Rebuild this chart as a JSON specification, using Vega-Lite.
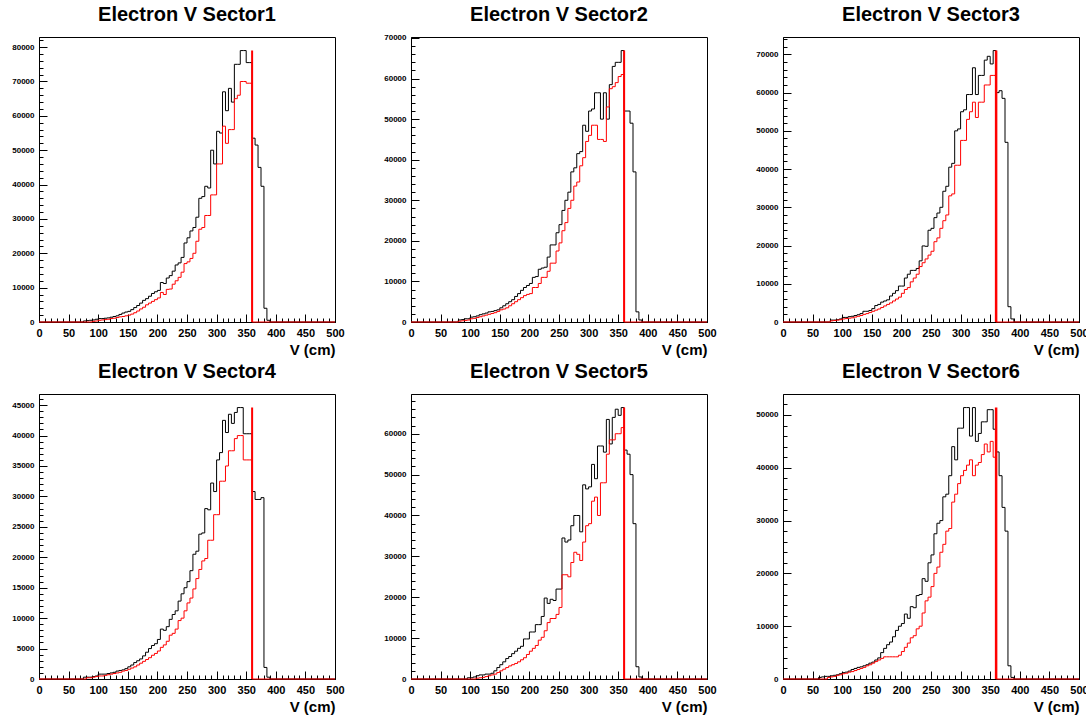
{
  "$schema": "https://vega.github.io/schema/vega-lite/v6.json",
  "background": "white",
  "padding": {"left": 11, "top": 4, "right": 2, "bottom": 2},
  "bounds": "flush",
  "columns": 3,
  "spacing": {"row": 72, "column": 76},
  "datasets": {
    "sector1": [
      {"v":0,"all":0,"sel":0},{"v":75,"all":300,"sel":0},{"v":80,"all":400,"sel":0},{"v":85,"all":500,"sel":0},{"v":90,"all":600,"sel":200},{"v":95,"all":800,"sel":300},
      {"v":100,"all":1000,"sel":500},{"v":105,"all":1000,"sel":600},{"v":110,"all":1100,"sel":700},{"v":115,"all":1200,"sel":800},{"v":120,"all":1400,"sel":1000},{"v":125,"all":1600,"sel":1100},
      {"v":130,"all":1800,"sel":1300},{"v":135,"all":2200,"sel":1500},{"v":140,"all":2600,"sel":1600},{"v":145,"all":2900,"sel":1800},{"v":150,"all":3100,"sel":2000},{"v":155,"all":3600,"sel":2300},
      {"v":160,"all":4200,"sel":2700},{"v":165,"all":4800,"sel":3200},{"v":170,"all":5500,"sel":3800},{"v":175,"all":6300,"sel":4300},{"v":180,"all":6800,"sel":5000},{"v":185,"all":7500,"sel":5500},
      {"v":190,"all":8300,"sel":6000},{"v":195,"all":8800,"sel":6500},{"v":200,"all":9200,"sel":7000},{"v":205,"all":11500,"sel":8600},{"v":210,"all":11200,"sel":8000},{"v":215,"all":12800,"sel":9500},
      {"v":220,"all":13500,"sel":9600},{"v":225,"all":14800,"sel":11000},{"v":230,"all":16600,"sel":12000},{"v":235,"all":17200,"sel":13000},{"v":240,"all":18800,"sel":14500},{"v":245,"all":23000,"sel":17000},
      {"v":250,"all":24500,"sel":17500},{"v":255,"all":26500,"sel":18500},{"v":260,"all":27500,"sel":20000},{"v":265,"all":30500,"sel":23500},{"v":270,"all":36000,"sel":27000},{"v":275,"all":36500,"sel":27500},
      {"v":280,"all":39500,"sel":31000},{"v":285,"all":39000,"sel":31000},{"v":290,"all":50000,"sel":37000},{"v":295,"all":46000,"sel":37000},{"v":300,"all":55500,"sel":46000},{"v":305,"all":55000,"sel":46000},
      {"v":310,"all":67000,"sel":57000},{"v":315,"all":61500,"sel":52000},{"v":320,"all":68000,"sel":56000},{"v":325,"all":64000,"sel":56000},{"v":330,"all":75000,"sel":65000},{"v":335,"all":75000,"sel":66000},
      {"v":340,"all":79000,"sel":70000},{"v":345,"all":79000,"sel":70000},{"v":350,"all":75500,"sel":69500},{"v":355,"all":75500,"sel":69500},{"v":360,"all":53500,"sel":0},{"v":365,"all":51500,"sel":0},
      {"v":370,"all":45000,"sel":0},{"v":375,"all":39500,"sel":0},{"v":380,"all":4000,"sel":0},{"v":385,"all":500,"sel":0},{"v":390,"all":0,"sel":0},{"v":500,"all":0,"sel":0}
    ],
    "sector2": [
      {"v":0,"all":0,"sel":0},{"v":80,"all":500,"sel":200},{"v":85,"all":600,"sel":300},{"v":90,"all":800,"sel":400},{"v":95,"all":800,"sel":500},
      {"v":100,"all":1200,"sel":800},{"v":105,"all":1300,"sel":900},{"v":110,"all":1500,"sel":1100},{"v":115,"all":1800,"sel":1300},{"v":120,"all":2000,"sel":1500},{"v":125,"all":2200,"sel":1700},
      {"v":130,"all":2500,"sel":1900},{"v":135,"all":2600,"sel":2100},{"v":140,"all":2800,"sel":2300},{"v":145,"all":3000,"sel":2600},{"v":150,"all":3500,"sel":3000},{"v":155,"all":4000,"sel":3200},
      {"v":160,"all":4500,"sel":3500},{"v":165,"all":5000,"sel":4000},{"v":170,"all":5500,"sel":4500},{"v":175,"all":6300,"sel":5000},{"v":180,"all":7000,"sel":5500},{"v":185,"all":7800,"sel":6000},
      {"v":190,"all":8500,"sel":6500},{"v":195,"all":9000,"sel":6800},{"v":200,"all":9500,"sel":7000},{"v":205,"all":11000,"sel":8500},{"v":210,"all":11200,"sel":8500},{"v":215,"all":13000,"sel":9500},
      {"v":220,"all":13300,"sel":11000},{"v":225,"all":13500,"sel":11000},{"v":230,"all":16000,"sel":12500},{"v":235,"all":19000,"sel":14500},{"v":240,"all":19000,"sel":14500},{"v":245,"all":22000,"sel":17500},
      {"v":250,"all":24000,"sel":19500},{"v":255,"all":27500,"sel":22500},{"v":260,"all":30000,"sel":24500},{"v":265,"all":32000,"sel":28000},{"v":270,"all":37000,"sel":30000},{"v":275,"all":38000,"sel":33500},
      {"v":280,"all":41500,"sel":34500},{"v":285,"all":42000,"sel":38500},{"v":290,"all":48500,"sel":40500},{"v":295,"all":47000,"sel":44500},{"v":300,"all":52000,"sel":46000},{"v":305,"all":52500,"sel":48500},
      {"v":310,"all":56500,"sel":48500},{"v":315,"all":56500,"sel":45000},{"v":320,"all":50000,"sel":45000},{"v":325,"all":56500,"sel":44500},{"v":330,"all":50000,"sel":53000},{"v":335,"all":58500,"sel":57500},
      {"v":340,"all":63000,"sel":58000},{"v":345,"all":64000,"sel":59000},{"v":350,"all":64000,"sel":60500},{"v":355,"all":66900,"sel":61000},{"v":360,"all":52000,"sel":0},{"v":365,"all":52000,"sel":0},
      {"v":370,"all":49000,"sel":0},{"v":375,"all":37000,"sel":0},{"v":380,"all":2500,"sel":0},{"v":385,"all":500,"sel":0},{"v":390,"all":0,"sel":0},{"v":500,"all":0,"sel":0}
    ],
    "sector3": [
      {"v":0,"all":0,"sel":0},{"v":80,"all":500,"sel":300},{"v":85,"all":500,"sel":400},{"v":90,"all":600,"sel":500},{"v":95,"all":800,"sel":600},
      {"v":100,"all":1200,"sel":800},{"v":105,"all":1200,"sel":900},{"v":110,"all":1400,"sel":1000},{"v":115,"all":1500,"sel":1100},{"v":120,"all":1700,"sel":1300},{"v":125,"all":1900,"sel":1500},
      {"v":130,"all":2200,"sel":1700},{"v":135,"all":2800,"sel":2000},{"v":140,"all":2800,"sel":2200},{"v":145,"all":3000,"sel":2500},{"v":150,"all":3500,"sel":2800},{"v":155,"all":4300,"sel":3100},
      {"v":160,"all":4600,"sel":3400},{"v":165,"all":5200,"sel":3800},{"v":170,"all":5500,"sel":4200},{"v":175,"all":5800,"sel":4600},{"v":180,"all":6800,"sel":5000},{"v":185,"all":7500,"sel":5500},
      {"v":190,"all":8200,"sel":6000},{"v":195,"all":9400,"sel":6500},{"v":200,"all":9400,"sel":7500},{"v":205,"all":11500,"sel":8500},{"v":210,"all":12500,"sel":9000},{"v":215,"all":13500,"sel":10500},
      {"v":220,"all":13500,"sel":11500},{"v":225,"all":14000,"sel":12500},{"v":230,"all":16000,"sel":14500},{"v":235,"all":19900,"sel":15500},{"v":240,"all":19800,"sel":16500},{"v":245,"all":24000,"sel":17500},
      {"v":250,"all":24500,"sel":18500},{"v":255,"all":27300,"sel":21000},{"v":260,"all":28500,"sel":22000},{"v":265,"all":30000,"sel":24500},{"v":270,"all":34200,"sel":26500},{"v":275,"all":35500,"sel":28000},
      {"v":280,"all":40500,"sel":33000},{"v":285,"all":41500,"sel":33500},{"v":290,"all":50000,"sel":41000},{"v":295,"all":50500,"sel":41000},{"v":300,"all":55000,"sel":47500},{"v":305,"all":55500,"sel":47500},
      {"v":310,"all":59500,"sel":53000},{"v":315,"all":59500,"sel":55000},{"v":320,"all":66500,"sel":57500},{"v":325,"all":59500,"sel":53500},{"v":330,"all":64500,"sel":57500},{"v":335,"all":64500,"sel":57500},
      {"v":340,"all":68500,"sel":62000},{"v":345,"all":69500,"sel":62000},{"v":350,"all":67500,"sel":64500},{"v":355,"all":71000,"sel":64500},{"v":360,"all":60000,"sel":0},{"v":365,"all":60500,"sel":0},
      {"v":370,"all":58500,"sel":0},{"v":375,"all":47000,"sel":0},{"v":380,"all":4000,"sel":0},{"v":385,"all":800,"sel":0},{"v":390,"all":0,"sel":0},{"v":500,"all":0,"sel":0}
    ],
    "sector4": [
      {"v":0,"all":0,"sel":0},{"v":75,"all":300,"sel":0},{"v":80,"all":300,"sel":200},{"v":85,"all":300,"sel":200},{"v":90,"all":400,"sel":300},{"v":95,"all":500,"sel":400},
      {"v":100,"all":800,"sel":500},{"v":105,"all":800,"sel":500},{"v":110,"all":800,"sel":600},{"v":115,"all":900,"sel":700},{"v":120,"all":1000,"sel":800},{"v":125,"all":1100,"sel":900},
      {"v":130,"all":1300,"sel":1000},{"v":135,"all":1400,"sel":1100},{"v":140,"all":1500,"sel":1300},{"v":145,"all":1700,"sel":1400},{"v":150,"all":2000,"sel":1600},{"v":155,"all":2300,"sel":1800},
      {"v":160,"all":2700,"sel":2000},{"v":165,"all":3000,"sel":2300},{"v":170,"all":3300,"sel":2600},{"v":175,"all":3800,"sel":2900},{"v":180,"all":4400,"sel":3200},{"v":185,"all":5000,"sel":3500},
      {"v":190,"all":5500,"sel":3900},{"v":195,"all":5800,"sel":4200},{"v":200,"all":6500,"sel":4600},{"v":205,"all":8200,"sel":5200},{"v":210,"all":8000,"sel":5600},{"v":215,"all":8600,"sel":6200},
      {"v":220,"all":9800,"sel":7200},{"v":225,"all":10600,"sel":7500},{"v":230,"all":11200,"sel":8200},{"v":235,"all":12800,"sel":9600},{"v":240,"all":14000,"sel":10000},{"v":245,"all":15000,"sel":11200},
      {"v":250,"all":16000,"sel":12500},{"v":255,"all":17800,"sel":13300},{"v":260,"all":20500,"sel":14800},{"v":265,"all":21000,"sel":16500},{"v":270,"all":23800,"sel":18000},{"v":275,"all":24000,"sel":19400},
      {"v":280,"all":28000,"sel":19800},{"v":285,"all":27800,"sel":22800},{"v":290,"all":32200,"sel":22800},{"v":295,"all":30800,"sel":27000},{"v":300,"all":36000,"sel":27000},{"v":305,"all":37200,"sel":32500},
      {"v":310,"all":42500,"sel":32500},{"v":315,"all":40500,"sel":35000},{"v":320,"all":43500,"sel":37500},{"v":325,"all":42000,"sel":37500},{"v":330,"all":43800,"sel":39500},{"v":335,"all":44600,"sel":40000},
      {"v":340,"all":44600,"sel":40000},{"v":345,"all":40300,"sel":36000},{"v":350,"all":40300,"sel":36000},{"v":355,"all":40300,"sel":36000},{"v":360,"all":30800,"sel":0},{"v":365,"all":29500,"sel":0},
      {"v":370,"all":29500,"sel":0},{"v":375,"all":29800,"sel":0},{"v":380,"all":1900,"sel":0},{"v":385,"all":300,"sel":0},{"v":390,"all":0,"sel":0},{"v":500,"all":0,"sel":0}
    ],
    "sector5": [
      {"v":0,"all":0,"sel":0},{"v":95,"all":300,"sel":0},
      {"v":100,"all":300,"sel":0},{"v":105,"all":500,"sel":0},{"v":110,"all":800,"sel":200},{"v":115,"all":1000,"sel":300},{"v":120,"all":1000,"sel":400},{"v":125,"all":1200,"sel":600},
      {"v":130,"all":1200,"sel":800},{"v":135,"all":1400,"sel":1000},{"v":140,"all":2000,"sel":1200},{"v":145,"all":2800,"sel":1600},{"v":150,"all":3500,"sel":2000},{"v":155,"all":4200,"sel":2400},
      {"v":160,"all":5000,"sel":2800},{"v":165,"all":5500,"sel":3200},{"v":170,"all":6200,"sel":3500},{"v":175,"all":6800,"sel":3800},{"v":180,"all":7500,"sel":4200},{"v":185,"all":8000,"sel":4700},
      {"v":190,"all":9800,"sel":5200},{"v":195,"all":9800,"sel":6000},{"v":200,"all":11500,"sel":6800},{"v":205,"all":11500,"sel":7500},{"v":210,"all":13300,"sel":8200},{"v":215,"all":13300,"sel":9500},
      {"v":220,"all":15300,"sel":10200},{"v":225,"all":19800,"sel":11800},{"v":230,"all":18500,"sel":13800},{"v":235,"all":19500,"sel":14800},{"v":240,"all":19200,"sel":14800},{"v":245,"all":22000,"sel":15800},
      {"v":250,"all":22000,"sel":17500},{"v":255,"all":34500,"sel":25500},{"v":260,"all":33500,"sel":25500},{"v":265,"all":34000,"sel":25000},{"v":270,"all":37500,"sel":28500},{"v":275,"all":40000,"sel":31000},
      {"v":280,"all":40000,"sel":30500},{"v":285,"all":36000,"sel":29000},{"v":290,"all":47500,"sel":33500},{"v":295,"all":46500,"sel":37500},{"v":300,"all":47000,"sel":38000},{"v":305,"all":52500,"sel":43500},
      {"v":310,"all":49000,"sel":44500},{"v":315,"all":57000,"sel":40000},{"v":320,"all":57000,"sel":48000},{"v":325,"all":55500,"sel":48000},{"v":330,"all":63500,"sel":55000},{"v":335,"all":57500,"sel":58500},
      {"v":340,"all":64000,"sel":58500},{"v":345,"all":66000,"sel":60000},{"v":350,"all":64500,"sel":60000},{"v":355,"all":66400,"sel":61500},{"v":360,"all":56000,"sel":0},{"v":365,"all":55000,"sel":0},
      {"v":370,"all":50000,"sel":0},{"v":375,"all":38000,"sel":0},{"v":380,"all":3000,"sel":0},{"v":385,"all":500,"sel":0},{"v":390,"all":0,"sel":0},{"v":500,"all":0,"sel":0}
    ],
    "sector6": [
      {"v":0,"all":0,"sel":0},{"v":60,"all":300,"sel":0},{"v":65,"all":400,"sel":0},{"v":70,"all":500,"sel":0},{"v":75,"all":500,"sel":300},{"v":80,"all":600,"sel":400},{"v":85,"all":700,"sel":500},{"v":90,"all":800,"sel":700},{"v":95,"all":1000,"sel":800},
      {"v":100,"all":1200,"sel":1000},{"v":105,"all":1300,"sel":1100},{"v":110,"all":1500,"sel":1300},{"v":115,"all":1800,"sel":1400},{"v":120,"all":2000,"sel":1600},{"v":125,"all":2200,"sel":1800},
      {"v":130,"all":2300,"sel":2000},{"v":135,"all":2500,"sel":2200},{"v":140,"all":2700,"sel":2500},{"v":145,"all":3000,"sel":2700},{"v":150,"all":3200,"sel":3000},{"v":155,"all":3600,"sel":3300},
      {"v":160,"all":4000,"sel":3600},{"v":165,"all":5000,"sel":3900},{"v":170,"all":5800,"sel":4200},{"v":175,"all":6500,"sel":4200},{"v":180,"all":7000,"sel":4200},{"v":185,"all":8000,"sel":4200},
      {"v":190,"all":9200,"sel":4200},{"v":195,"all":10000,"sel":4500},{"v":200,"all":10500,"sel":5200},{"v":205,"all":12300,"sel":6000},{"v":210,"all":11500,"sel":6800},{"v":215,"all":13700,"sel":7800},
      {"v":220,"all":13500,"sel":8200},{"v":225,"all":15800,"sel":9500},{"v":230,"all":16000,"sel":10000},{"v":235,"all":19000,"sel":12500},{"v":240,"all":18500,"sel":14800},{"v":245,"all":22000,"sel":15500},
      {"v":250,"all":23500,"sel":17500},{"v":255,"all":27500,"sel":20000},{"v":260,"all":29500,"sel":21200},{"v":265,"all":30000,"sel":24000},{"v":270,"all":34500,"sel":25500},{"v":275,"all":35000,"sel":28000},
      {"v":280,"all":38500,"sel":28500},{"v":285,"all":44000,"sel":33500},{"v":290,"all":41500,"sel":35000},{"v":295,"all":47500,"sel":37000},{"v":300,"all":47500,"sel":38500},{"v":305,"all":51400,"sel":39500},
      {"v":310,"all":51400,"sel":40500},{"v":315,"all":46000,"sel":41500},{"v":320,"all":51400,"sel":38500},{"v":325,"all":45000,"sel":40500},{"v":330,"all":46500,"sel":41000},{"v":335,"all":48700,"sel":42500},
      {"v":340,"all":48700,"sel":44500},{"v":345,"all":51000,"sel":43000},{"v":350,"all":51000,"sel":45000},{"v":355,"all":47300,"sel":42000},{"v":360,"all":43000,"sel":0},{"v":365,"all":38500,"sel":0},
      {"v":370,"all":32500,"sel":0},{"v":375,"all":28000,"sel":0},{"v":380,"all":2500,"sel":0},{"v":385,"all":300,"sel":0},{"v":390,"all":0,"sel":0},{"v":500,"all":0,"sel":0}
    ]
  },
  "concat": [
    {
      "title": "Electron V Sector1",
      "width": 296, "height": 285,
      "data": {"name": "sector1"},
      "layer": [
        {"mark": {"type": "line", "interpolate": "step-after", "color": "black", "strokeWidth": 1},
         "encoding": {
           "x": {"field": "v", "type": "quantitative", "scale": {"domain": [0, 500], "nice": false, "zero": false},
                 "axis": {"orient": "bottom", "values": [0,50,100,150,200,250,300,350,400,450,500], "tickSize": -8, "labelFontSize": 11, "labelPadding": 13, "title": "V (cm)", "titleFontSize": 15, "titleAnchor": "end", "titlePadding": 4}},
           "y": {"field": "all", "type": "quantitative", "scale": {"domain": [0, 82950], "nice": false},
                 "axis": {"orient": "left", "values": [0,10000,20000,30000,40000,50000,60000,70000,80000], "format": "d", "tickSize": -8, "labelFontSize": 8, "labelPadding": 13, "title": null}}
         }},
        {"mark": {"type": "line", "interpolate": "step-after", "color": "red", "strokeWidth": 1},
         "encoding": {
           "x": {"field": "v", "type": "quantitative", "axis": {"orient": "bottom", "tickCount": 50, "tickSize": -4, "labels": false, "domain": false, "title": null}},
           "y": {"field": "sel", "type": "quantitative", "axis": {"orient": "left", "tickCount": 40, "tickSize": -4, "labels": false, "domain": false, "title": null}}
         }},
        {"data": {"values": [{"v": 360, "top": 79000}]},
         "mark": {"type": "rule", "color": "red", "strokeWidth": 2},
         "encoding": {
           "x": {"field": "v", "type": "quantitative", "axis": null},
           "y": {"field": "top", "type": "quantitative", "axis": null},
           "y2": {"datum": 0}
         }}
      ],
      "resolve": {"axis": {"x": "independent", "y": "independent"}}
    },
    {
      "title": {"text": "Electron V Sector2", "dy": 3},
      "width": 296, "height": 285,
      "data": {"name": "sector2"},
      "layer": [
        {"mark": {"type": "line", "interpolate": "step-after", "color": "black", "strokeWidth": 1},
         "encoding": {
           "x": {"field": "v", "type": "quantitative", "scale": {"domain": [0, 500], "nice": false, "zero": false},
                 "axis": {"orient": "bottom", "values": [0,50,100,150,200,250,300,350,400,450,500], "tickSize": -8, "labelFontSize": 11, "labelPadding": 13, "title": "V (cm)", "titleFontSize": 15, "titleAnchor": "end", "titlePadding": 4}},
           "y": {"field": "all", "type": "quantitative", "scale": {"domain": [0, 70245], "nice": false},
                 "axis": {"orient": "left", "values": [0,10000,20000,30000,40000,50000,60000,70000], "format": "d", "tickSize": -8, "labelFontSize": 8, "labelPadding": 13, "title": null}}
         }},
        {"mark": {"type": "line", "interpolate": "step-after", "color": "red", "strokeWidth": 1},
         "encoding": {
           "x": {"field": "v", "type": "quantitative", "axis": {"orient": "bottom", "tickCount": 50, "tickSize": -4, "labels": false, "domain": false, "title": null}},
           "y": {"field": "sel", "type": "quantitative", "axis": {"orient": "left", "tickCount": 35, "tickSize": -4, "labels": false, "domain": false, "title": null}}
         }},
        {"data": {"values": [{"v": 360, "top": 66900}]},
         "mark": {"type": "rule", "color": "red", "strokeWidth": 2},
         "encoding": {
           "x": {"field": "v", "type": "quantitative", "axis": null},
           "y": {"field": "top", "type": "quantitative", "axis": null},
           "y2": {"datum": 0}
         }}
      ],
      "resolve": {"axis": {"x": "independent", "y": "independent"}}
    },
    {
      "title": "Electron V Sector3",
      "width": 296, "height": 285,
      "data": {"name": "sector3"},
      "layer": [
        {"mark": {"type": "line", "interpolate": "step-after", "color": "black", "strokeWidth": 1},
         "encoding": {
           "x": {"field": "v", "type": "quantitative", "scale": {"domain": [0, 500], "nice": false, "zero": false},
                 "axis": {"orient": "bottom", "values": [0,50,100,150,200,250,300,350,400,450,500], "tickSize": -8, "labelFontSize": 11, "labelPadding": 13, "title": "V (cm)", "titleFontSize": 15, "titleAnchor": "end", "titlePadding": 4}},
           "y": {"field": "all", "type": "quantitative", "scale": {"domain": [0, 74550], "nice": false},
                 "axis": {"orient": "left", "values": [0,10000,20000,30000,40000,50000,60000,70000], "format": "d", "tickSize": -8, "labelFontSize": 8, "labelPadding": 13, "title": null}}
         }},
        {"mark": {"type": "line", "interpolate": "step-after", "color": "red", "strokeWidth": 1},
         "encoding": {
           "x": {"field": "v", "type": "quantitative", "axis": {"orient": "bottom", "tickCount": 50, "tickSize": -4, "labels": false, "domain": false, "title": null}},
           "y": {"field": "sel", "type": "quantitative", "axis": {"orient": "left", "tickCount": 37, "tickSize": -4, "labels": false, "domain": false, "title": null}}
         }},
        {"data": {"values": [{"v": 360, "top": 71000}]},
         "mark": {"type": "rule", "color": "red", "strokeWidth": 2.5},
         "encoding": {
           "x": {"field": "v", "type": "quantitative", "axis": null},
           "y": {"field": "top", "type": "quantitative", "axis": null},
           "y2": {"datum": 0}
         }}
      ],
      "resolve": {"axis": {"x": "independent", "y": "independent"}}
    },
    {
      "title": "Electron V Sector4",
      "width": 296, "height": 285,
      "data": {"name": "sector4"},
      "layer": [
        {"mark": {"type": "line", "interpolate": "step-after", "color": "black", "strokeWidth": 1},
         "encoding": {
           "x": {"field": "v", "type": "quantitative", "scale": {"domain": [0, 500], "nice": false, "zero": false},
                 "axis": {"orient": "bottom", "values": [0,50,100,150,200,250,300,350,400,450,500], "tickSize": -8, "labelFontSize": 11, "labelPadding": 13, "title": "V (cm)", "titleFontSize": 15, "titleAnchor": "end", "titlePadding": 4}},
           "y": {"field": "all", "type": "quantitative", "scale": {"domain": [0, 46830], "nice": false},
                 "axis": {"orient": "left", "values": [0,5000,10000,15000,20000,25000,30000,35000,40000,45000], "format": "d", "tickSize": -8, "labelFontSize": 8, "labelPadding": 13, "title": null}}
         }},
        {"mark": {"type": "line", "interpolate": "step-after", "color": "red", "strokeWidth": 1},
         "encoding": {
           "x": {"field": "v", "type": "quantitative", "axis": {"orient": "bottom", "tickCount": 50, "tickSize": -4, "labels": false, "domain": false, "title": null}},
           "y": {"field": "sel", "type": "quantitative", "axis": {"orient": "left", "tickCount": 45, "tickSize": -4, "labels": false, "domain": false, "title": null}}
         }},
        {"data": {"values": [{"v": 360, "top": 44600}]},
         "mark": {"type": "rule", "color": "red", "strokeWidth": 2},
         "encoding": {
           "x": {"field": "v", "type": "quantitative", "axis": null},
           "y": {"field": "top", "type": "quantitative", "axis": null},
           "y2": {"datum": 0}
         }}
      ],
      "resolve": {"axis": {"x": "independent", "y": "independent"}}
    },
    {
      "title": "Electron V Sector5",
      "width": 296, "height": 285,
      "data": {"name": "sector5"},
      "layer": [
        {"mark": {"type": "line", "interpolate": "step-after", "color": "black", "strokeWidth": 1},
         "encoding": {
           "x": {"field": "v", "type": "quantitative", "scale": {"domain": [0, 500], "nice": false, "zero": false},
                 "axis": {"orient": "bottom", "values": [0,50,100,150,200,250,300,350,400,450,500], "tickSize": -8, "labelFontSize": 11, "labelPadding": 13, "title": "V (cm)", "titleFontSize": 15, "titleAnchor": "end", "titlePadding": 4}},
           "y": {"field": "all", "type": "quantitative", "scale": {"domain": [0, 69720], "nice": false},
                 "axis": {"orient": "left", "values": [0,10000,20000,30000,40000,50000,60000], "format": "d", "tickSize": -8, "labelFontSize": 8, "labelPadding": 13, "title": null}}
         }},
        {"mark": {"type": "line", "interpolate": "step-after", "color": "red", "strokeWidth": 1},
         "encoding": {
           "x": {"field": "v", "type": "quantitative", "axis": {"orient": "bottom", "tickCount": 50, "tickSize": -4, "labels": false, "domain": false, "title": null}},
           "y": {"field": "sel", "type": "quantitative", "axis": {"orient": "left", "tickCount": 35, "tickSize": -4, "labels": false, "domain": false, "title": null}}
         }},
        {"data": {"values": [{"v": 360, "top": 66400}]},
         "mark": {"type": "rule", "color": "red", "strokeWidth": 2},
         "encoding": {
           "x": {"field": "v", "type": "quantitative", "axis": null},
           "y": {"field": "top", "type": "quantitative", "axis": null},
           "y2": {"datum": 0}
         }}
      ],
      "resolve": {"axis": {"x": "independent", "y": "independent"}}
    },
    {
      "title": "Electron V Sector6",
      "width": 296, "height": 285,
      "data": {"name": "sector6"},
      "layer": [
        {"mark": {"type": "line", "interpolate": "step-after", "color": "black", "strokeWidth": 1},
         "encoding": {
           "x": {"field": "v", "type": "quantitative", "scale": {"domain": [0, 500], "nice": false, "zero": false},
                 "axis": {"orient": "bottom", "values": [0,50,100,150,200,250,300,350,400,450,500], "tickSize": -8, "labelFontSize": 11, "labelPadding": 13, "title": "V (cm)", "titleFontSize": 15, "titleAnchor": "end", "titlePadding": 4}},
           "y": {"field": "all", "type": "quantitative", "scale": {"domain": [0, 53970], "nice": false},
                 "axis": {"orient": "left", "values": [0,10000,20000,30000,40000,50000], "format": "d", "tickSize": -8, "labelFontSize": 8, "labelPadding": 13, "title": null}}
         }},
        {"mark": {"type": "line", "interpolate": "step-after", "color": "red", "strokeWidth": 1},
         "encoding": {
           "x": {"field": "v", "type": "quantitative", "axis": {"orient": "bottom", "tickCount": 50, "tickSize": -4, "labels": false, "domain": false, "title": null}},
           "y": {"field": "sel", "type": "quantitative", "axis": {"orient": "left", "tickCount": 27, "tickSize": -4, "labels": false, "domain": false, "title": null}}
         }},
        {"data": {"values": [{"v": 360, "top": 51400}]},
         "mark": {"type": "rule", "color": "red", "strokeWidth": 2.5},
         "encoding": {
           "x": {"field": "v", "type": "quantitative", "axis": null},
           "y": {"field": "top", "type": "quantitative", "axis": null},
           "y2": {"datum": 0}
         }}
      ],
      "resolve": {"axis": {"x": "independent", "y": "independent"}}
    }
  ],
  "config": {
    "view": {"stroke": "black", "strokeWidth": 1},
    "axis": {
      "grid": false, "domainColor": "black", "domainWidth": 1, "tickColor": "black", "tickWidth": 1,
      "labelColor": "black", "labelFont": "Liberation Sans", "labelFontWeight": "bold",
      "titleFont": "Liberation Sans", "titleFontWeight": "bold", "titleColor": "black",
      "labelOverlap": false, "labelFlush": false
    },
    "title": {"font": "Liberation Sans", "fontSize": 20, "fontWeight": "bold", "color": "black", "anchor": "middle", "frame": "group", "offset": 12}
  }
}
